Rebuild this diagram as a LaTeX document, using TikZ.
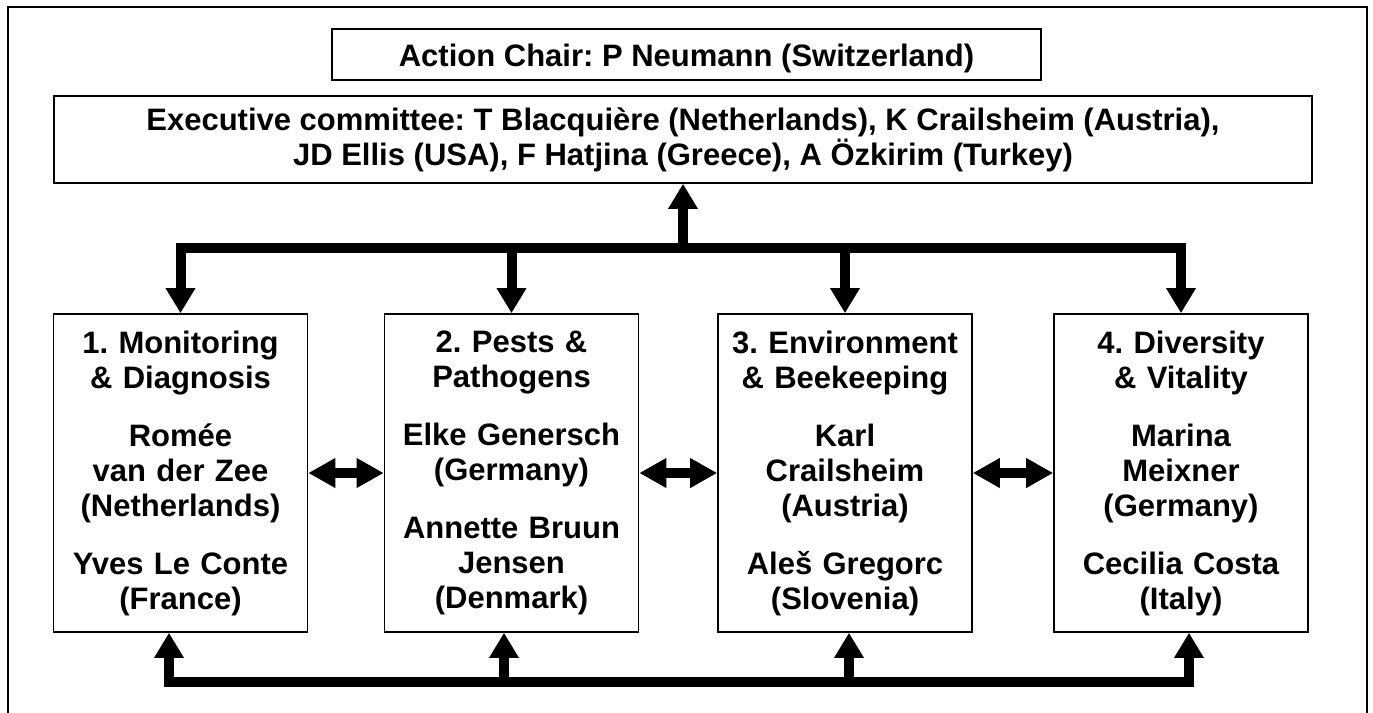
\documentclass[tikz,border=0pt]{standalone}
\usepackage{fontspec}
\setmainfont{Liberation Sans}
\usepackage{tikz}
\usetikzlibrary{arrows.meta}
\frenchspacing

\begin{document}
\begin{tikzpicture}[x=0.5pt, y=-0.5pt,
    box/.style={draw, line width=0.8pt, inner sep=0pt, align=center, font=\fontsize{15.5}{17.5}\selectfont\bfseries},
    wpbox/.style={box, minimum width=127pt, minimum height=159pt, text width=125pt},
    bigarrow/.style={line width=5pt, -{Triangle[length=12.5pt, width=14pt]}},
    dblarrow/.style={line width=5pt, {Triangle[length=13.5pt, width=14pt]}-{Triangle[length=13.5pt, width=14pt]}}]
    \useasboundingbox (0,0) rectangle (1373,713);
    
    % Outer frame
    \draw[line width=1pt] (8,7) rectangle (1367,740);
    
    % Chair and executive committee
    \node[box, minimum width=354.5pt, minimum height=25.5pt, text height=15pt, text depth=3.5pt] (chair) at (686.5,54.5) {Action Chair: P Neumann (Switzerland)};
    \node[box, minimum width=629pt, minimum height=43.5pt] (exec) at (683,139.5)
        {Executive committee: T Blacquière (Netherlands), K Crailsheim (Austria),\\ JD Ellis (USA), F Hatjina (Greece), A Özkirim (Turkey)};
    
    % Working groups
    \node[wpbox] (wg1) at (180.5,473) {1. Monitoring\\ \& Diagnosis\\[11.5pt] Romée\\ van der Zee\\ (Netherlands)\\[11.5pt] Yves Le Conte\\ (France)};
    \node[wpbox] (wg2) at (511.5,473) {2. Pests \&\\ Pathogens\\[11.5pt] Elke Genersch\\ (Germany)\\[11.5pt] Annette Bruun\\ Jensen\\ (Denmark)};
    \node[wpbox] (wg3) at (845,473) {3. Environment\\ \& Beekeeping\\[11.5pt] Karl\\ Crailsheim\\ (Austria)\\[11.5pt] Aleš Gregorc\\ (Slovenia)};
    \node[wpbox] (wg4) at (1181,473) {4. Diversity\\ \& Vitality\\[11.5pt] Marina\\ Meixner\\ (Germany)\\[11.5pt] Cecilia Costa\\ (Italy)};
    
    % Top bus
    \coordinate (top) at (683,248);
    \draw[bigarrow] (top) -- (exec);
    \draw[bigarrow] (top) -| (wg1);
    \draw[bigarrow] (top) -| (wg2);
    \draw[bigarrow] (top) -| (wg3);
    \draw[bigarrow] (top) -| (wg4);
    
    % Links between groups
    \draw[dblarrow] (wg1) -- (wg2);
    \draw[dblarrow] (wg2) -- (wg3);
    \draw[dblarrow] (wg3) -- (wg4);
    
    % Bottom bus
    \coordinate (b1) at (169,682);
    \coordinate (b2) at (504,682);
    \coordinate (b3) at (849,682);
    \coordinate (b4) at (1189,682);
    \draw[line width=5pt, line cap=rect] (b1) -- (b4);
    \draw[bigarrow] (b1) -- (b1 |- wg1.south);
    \draw[bigarrow] (b2) -- (b2 |- wg2.south);
    \draw[bigarrow] (b3) -- (b3 |- wg3.south);
    \draw[bigarrow] (b4) -- (b4 |- wg4.south);
    
\end{tikzpicture}
\end{document}
